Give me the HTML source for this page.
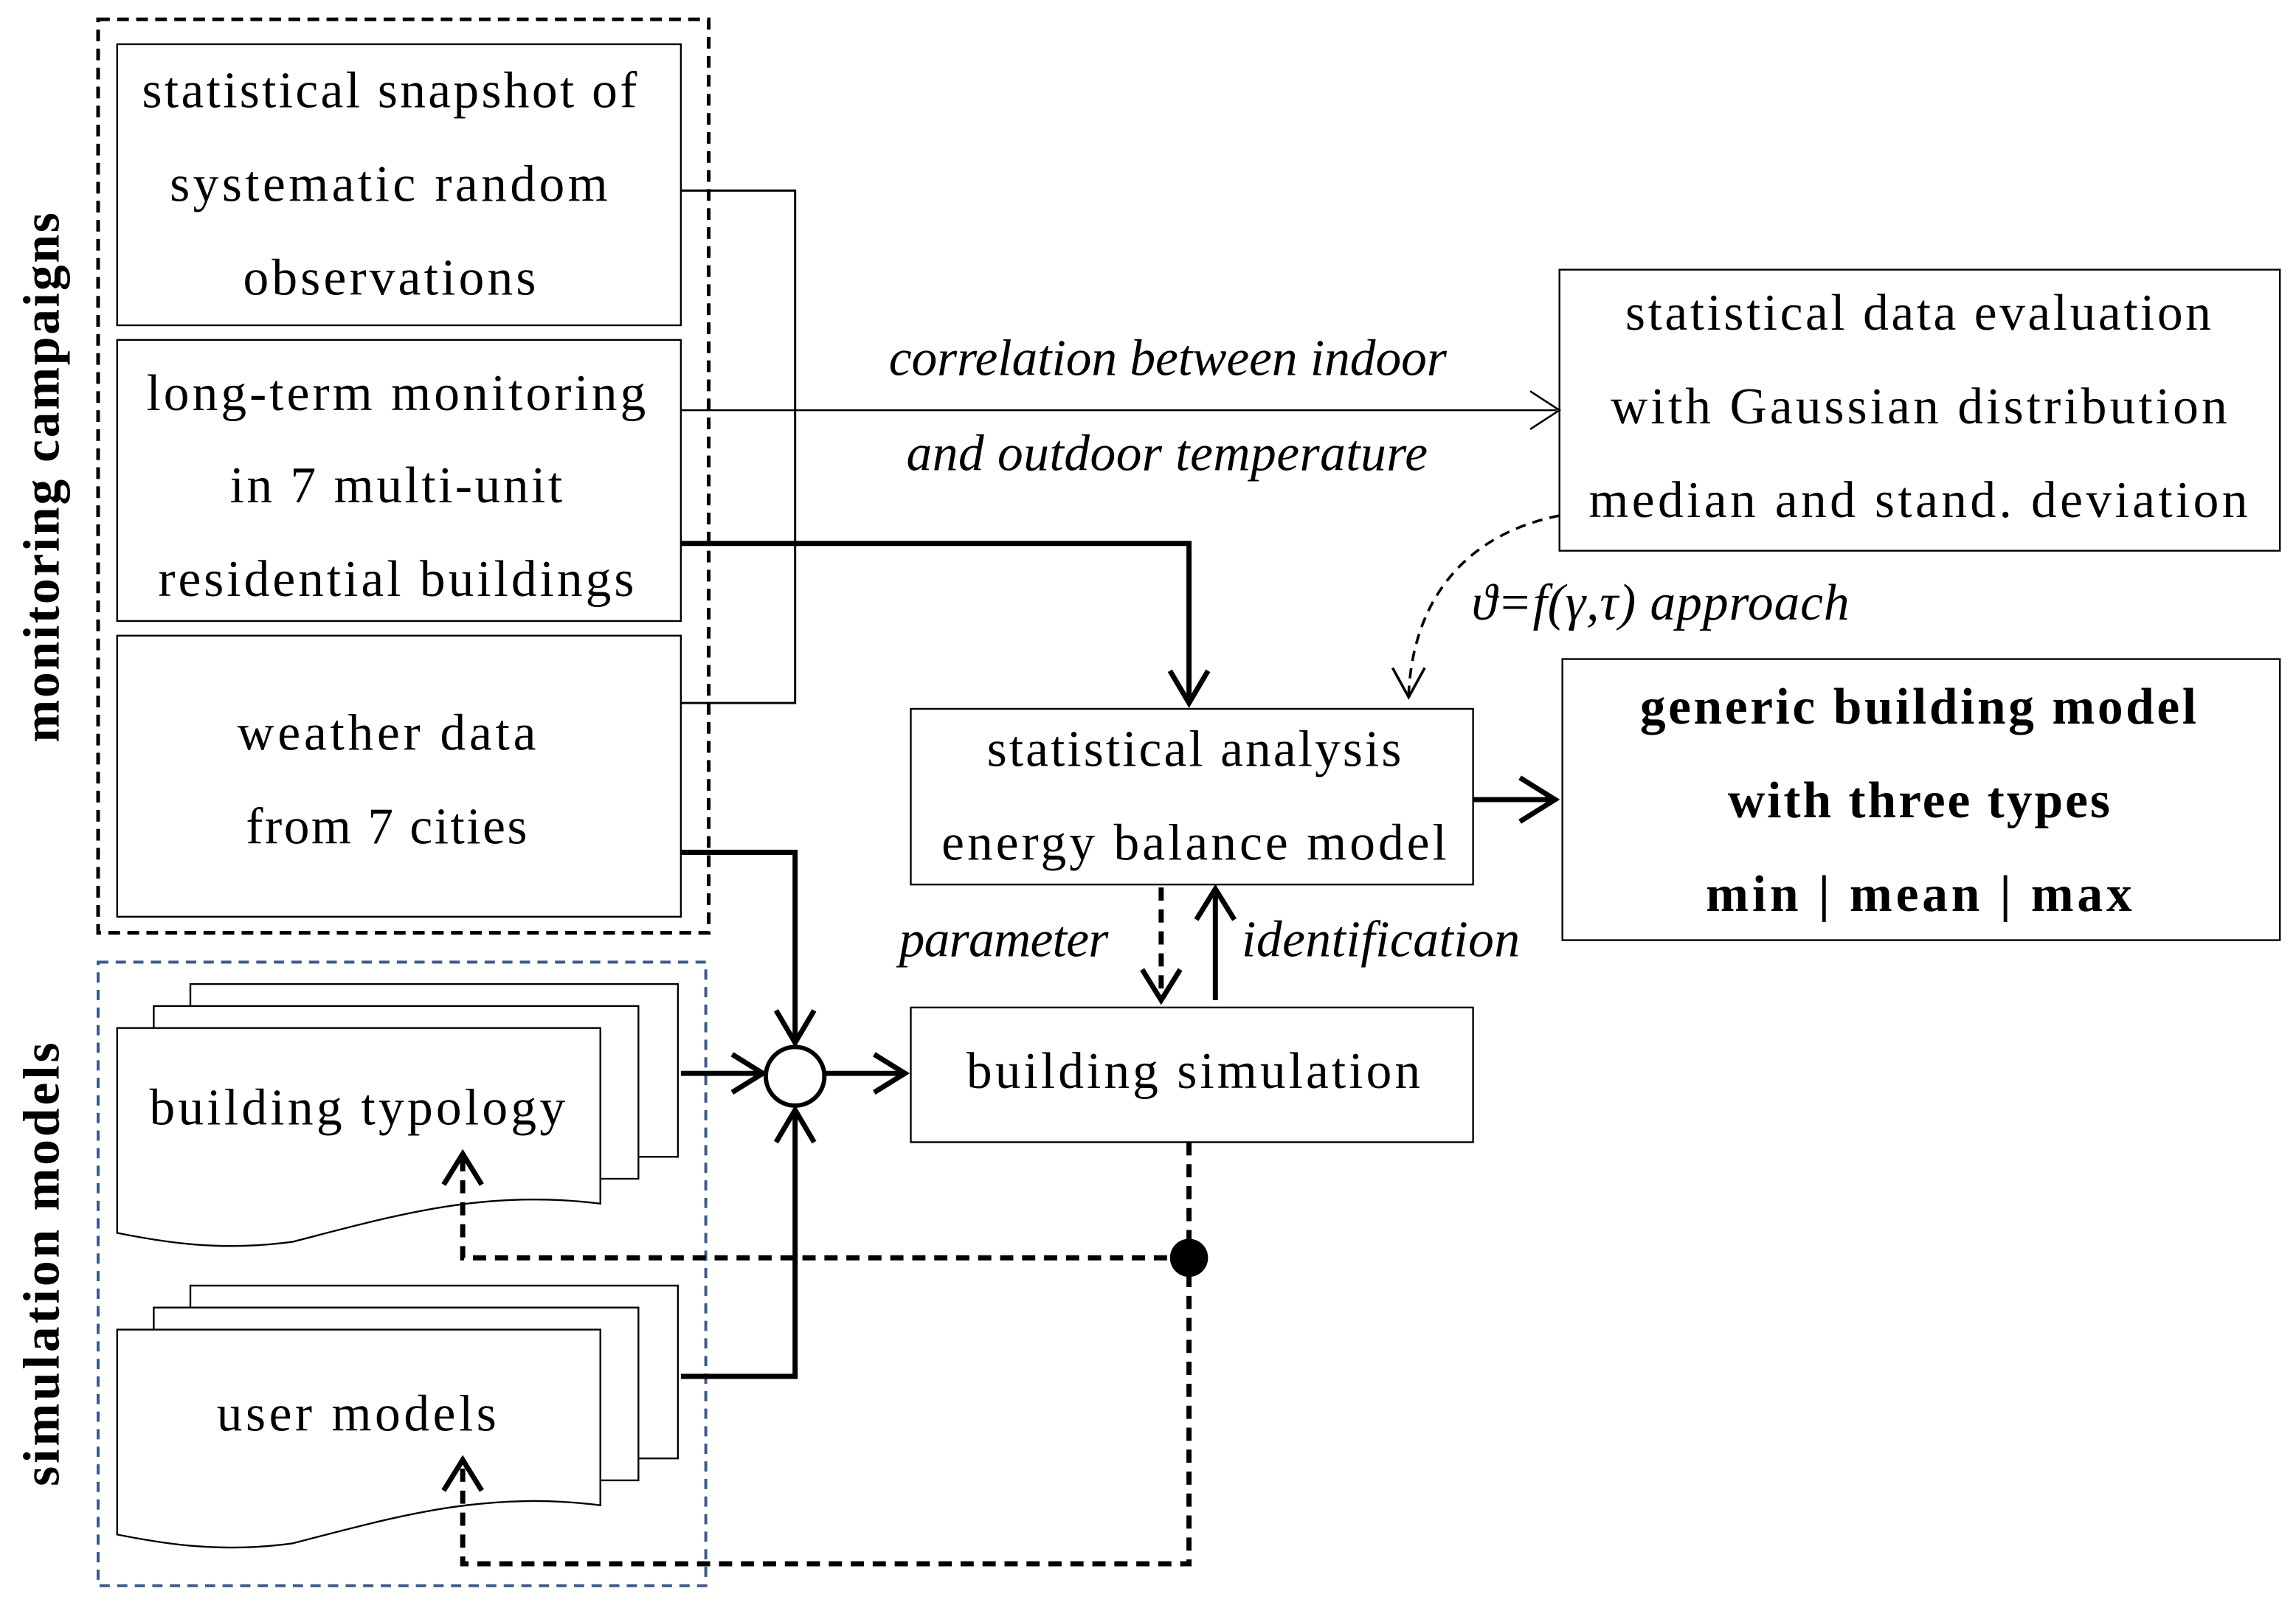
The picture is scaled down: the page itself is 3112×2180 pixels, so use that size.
<!DOCTYPE html>
<html><head><meta charset="utf-8"><style>html,body{margin:0;padding:0;background:#fff}svg{display:block}</style></head>
<body>
<svg width="3112" height="2180" viewBox="0 0 1568 1098" xmlns="http://www.w3.org/2000/svg" font-family="Liberation Serif, serif" font-size="35" fill="#000">
<g fill="none" stroke="#000">
<rect x="67" y="13" width="417" height="624" stroke-width="2.5" stroke-dasharray="8,5"/>
<rect x="67" y="657" width="415" height="426" stroke="#3a5a8a" stroke-width="2" stroke-dasharray="7,5"/>
<rect x="80" y="30" width="385" height="192" stroke-width="1.2"/>
<rect x="80" y="232" width="385" height="192" stroke-width="1.2"/>
<rect x="80" y="434" width="385" height="192" stroke-width="1.2"/>
<rect x="1065" y="184" width="492" height="192" stroke-width="1.2"/>
<rect x="622" y="484" width="384" height="120" stroke-width="1.2"/>
<rect x="1067" y="450" width="490" height="192" stroke-width="1.2"/>
<rect x="622" y="688" width="384" height="92" stroke-width="1.2"/>
<g stroke-width="1.2" fill="#fff">
<path d="M130,672 H463 V790 H130 Z"/>
<path d="M105,687 H436 V805 H105 Z"/>
<path d="M80,702 H410 V822 C330,812 270,830 200,848 C150,855 110,848 80,842 Z"/>
<path d="M130,878 H463 V996 H130 Z"/>
<path d="M105,893 H436 V1011 H105 Z"/>
<path d="M80,908 H410 V1028 C330,1018 270,1036 200,1054 C150,1061 110,1054 80,1048 Z"/>
</g>
<path d="M465,130 H543 V480 H465" stroke-width="1.5"/>
<path d="M465,280 H1063" stroke-width="1.3"/>
<path d="M1045,267 L1065,280 L1045,293" stroke-width="1.3"/>
<g stroke-width="3.5">
<path d="M465,371 H812 V478"/>
<path d="M799,458 L812,480 L825,458"/>
<path d="M465,582 H543 V710"/>
<path d="M530,690 L543,712 L556,690"/>
<path d="M465,940 H543 V760"/>
<path d="M530,780 L543,758 L556,780"/>
<path d="M465,733 H520"/>
<path d="M500,720 L521,733 L500,746"/>
<path d="M563,733 H617"/>
<path d="M597,720 L618,733 L597,746"/>
<path d="M1006,546 H1060"/>
<path d="M1038,531 L1062,546 L1038,561"/>
<path d="M830,683 V610"/>
<path d="M817,628 L830,607 L843,628"/>
<path d="M793,606 V680" stroke-dasharray="9,6"/>
<path d="M780,662 L793,683 L806,662"/>
<path d="M812,780 V1068 H316 V997" stroke-dasharray="9,6"/>
<path d="M303,1018 L316,997 L329,1018"/>
<path d="M812,859 H316 V789" stroke-dasharray="9,6"/>
<path d="M303,809 L316,788 L329,809"/>
</g>
<circle cx="543" cy="735" r="20" stroke-width="3" fill="#fff"/>
<path d="M1065,352 C1000,365 965,410 962,474" stroke-width="1.8" stroke-dasharray="7,5"/>
<path d="M951,456 L962,476 L973,456" stroke-width="1.8"/>
</g>
<circle cx="812" cy="859" r="13" fill="#000"/>
<g lengthAdjust="spacingAndGlyphs">
<text x="97" y="73" textLength="338">statistical snapshot of</text>
<text x="116" y="137" textLength="299">systematic random</text>
<text x="166" y="201" textLength="200">observations</text>
<text x="100" y="280" textLength="341">long-term monitoring</text>
<text x="157" y="343" textLength="227">in 7 multi-unit</text>
<text x="108" y="407" textLength="325">residential buildings</text>
<text x="162" y="512" textLength="204">weather data</text>
<text x="168" y="576" textLength="192">from 7 cities</text>
<text x="607" y="256" textLength="381" font-style="italic">correlation between indoor</text>
<text x="619" y="321" textLength="356" font-style="italic">and outdoor temperature</text>
<text x="1110" y="225" textLength="400">statistical data evaluation</text>
<text x="1100" y="289" textLength="421">with Gaussian distribution</text>
<text x="1085" y="353" textLength="450">median and stand. deviation</text>
<text x="674" y="523" textLength="283">statistical analysis</text>
<text x="643" y="587" textLength="345">energy balance model</text>
<text x="660" y="743" textLength="310">building simulation</text>
<text x="1120" y="494" textLength="380" font-weight="bold">generic building model</text>
<text x="1180" y="558" textLength="261" font-weight="bold">with three types</text>
<text x="1165" y="622" textLength="291" font-weight="bold">min | mean | max</text>
<text x="102" y="768" textLength="284">building typology</text>
<text x="148" y="977" textLength="191">user models</text>
<text transform="translate(40,507) rotate(-90)" textLength="362" font-weight="bold">monitoring campaigns</text>
<text transform="translate(40,1015) rotate(-90)" textLength="303" font-weight="bold">simulation models</text>
<text x="1005" y="423" textLength="258" font-style="italic">ϑ=f(γ,τ) approach</text>
<text x="614" y="653" textLength="143" font-style="italic">parameter</text>
<text x="848" y="653" textLength="190" font-style="italic">identification</text>
</g>
</svg>
</body></html>
